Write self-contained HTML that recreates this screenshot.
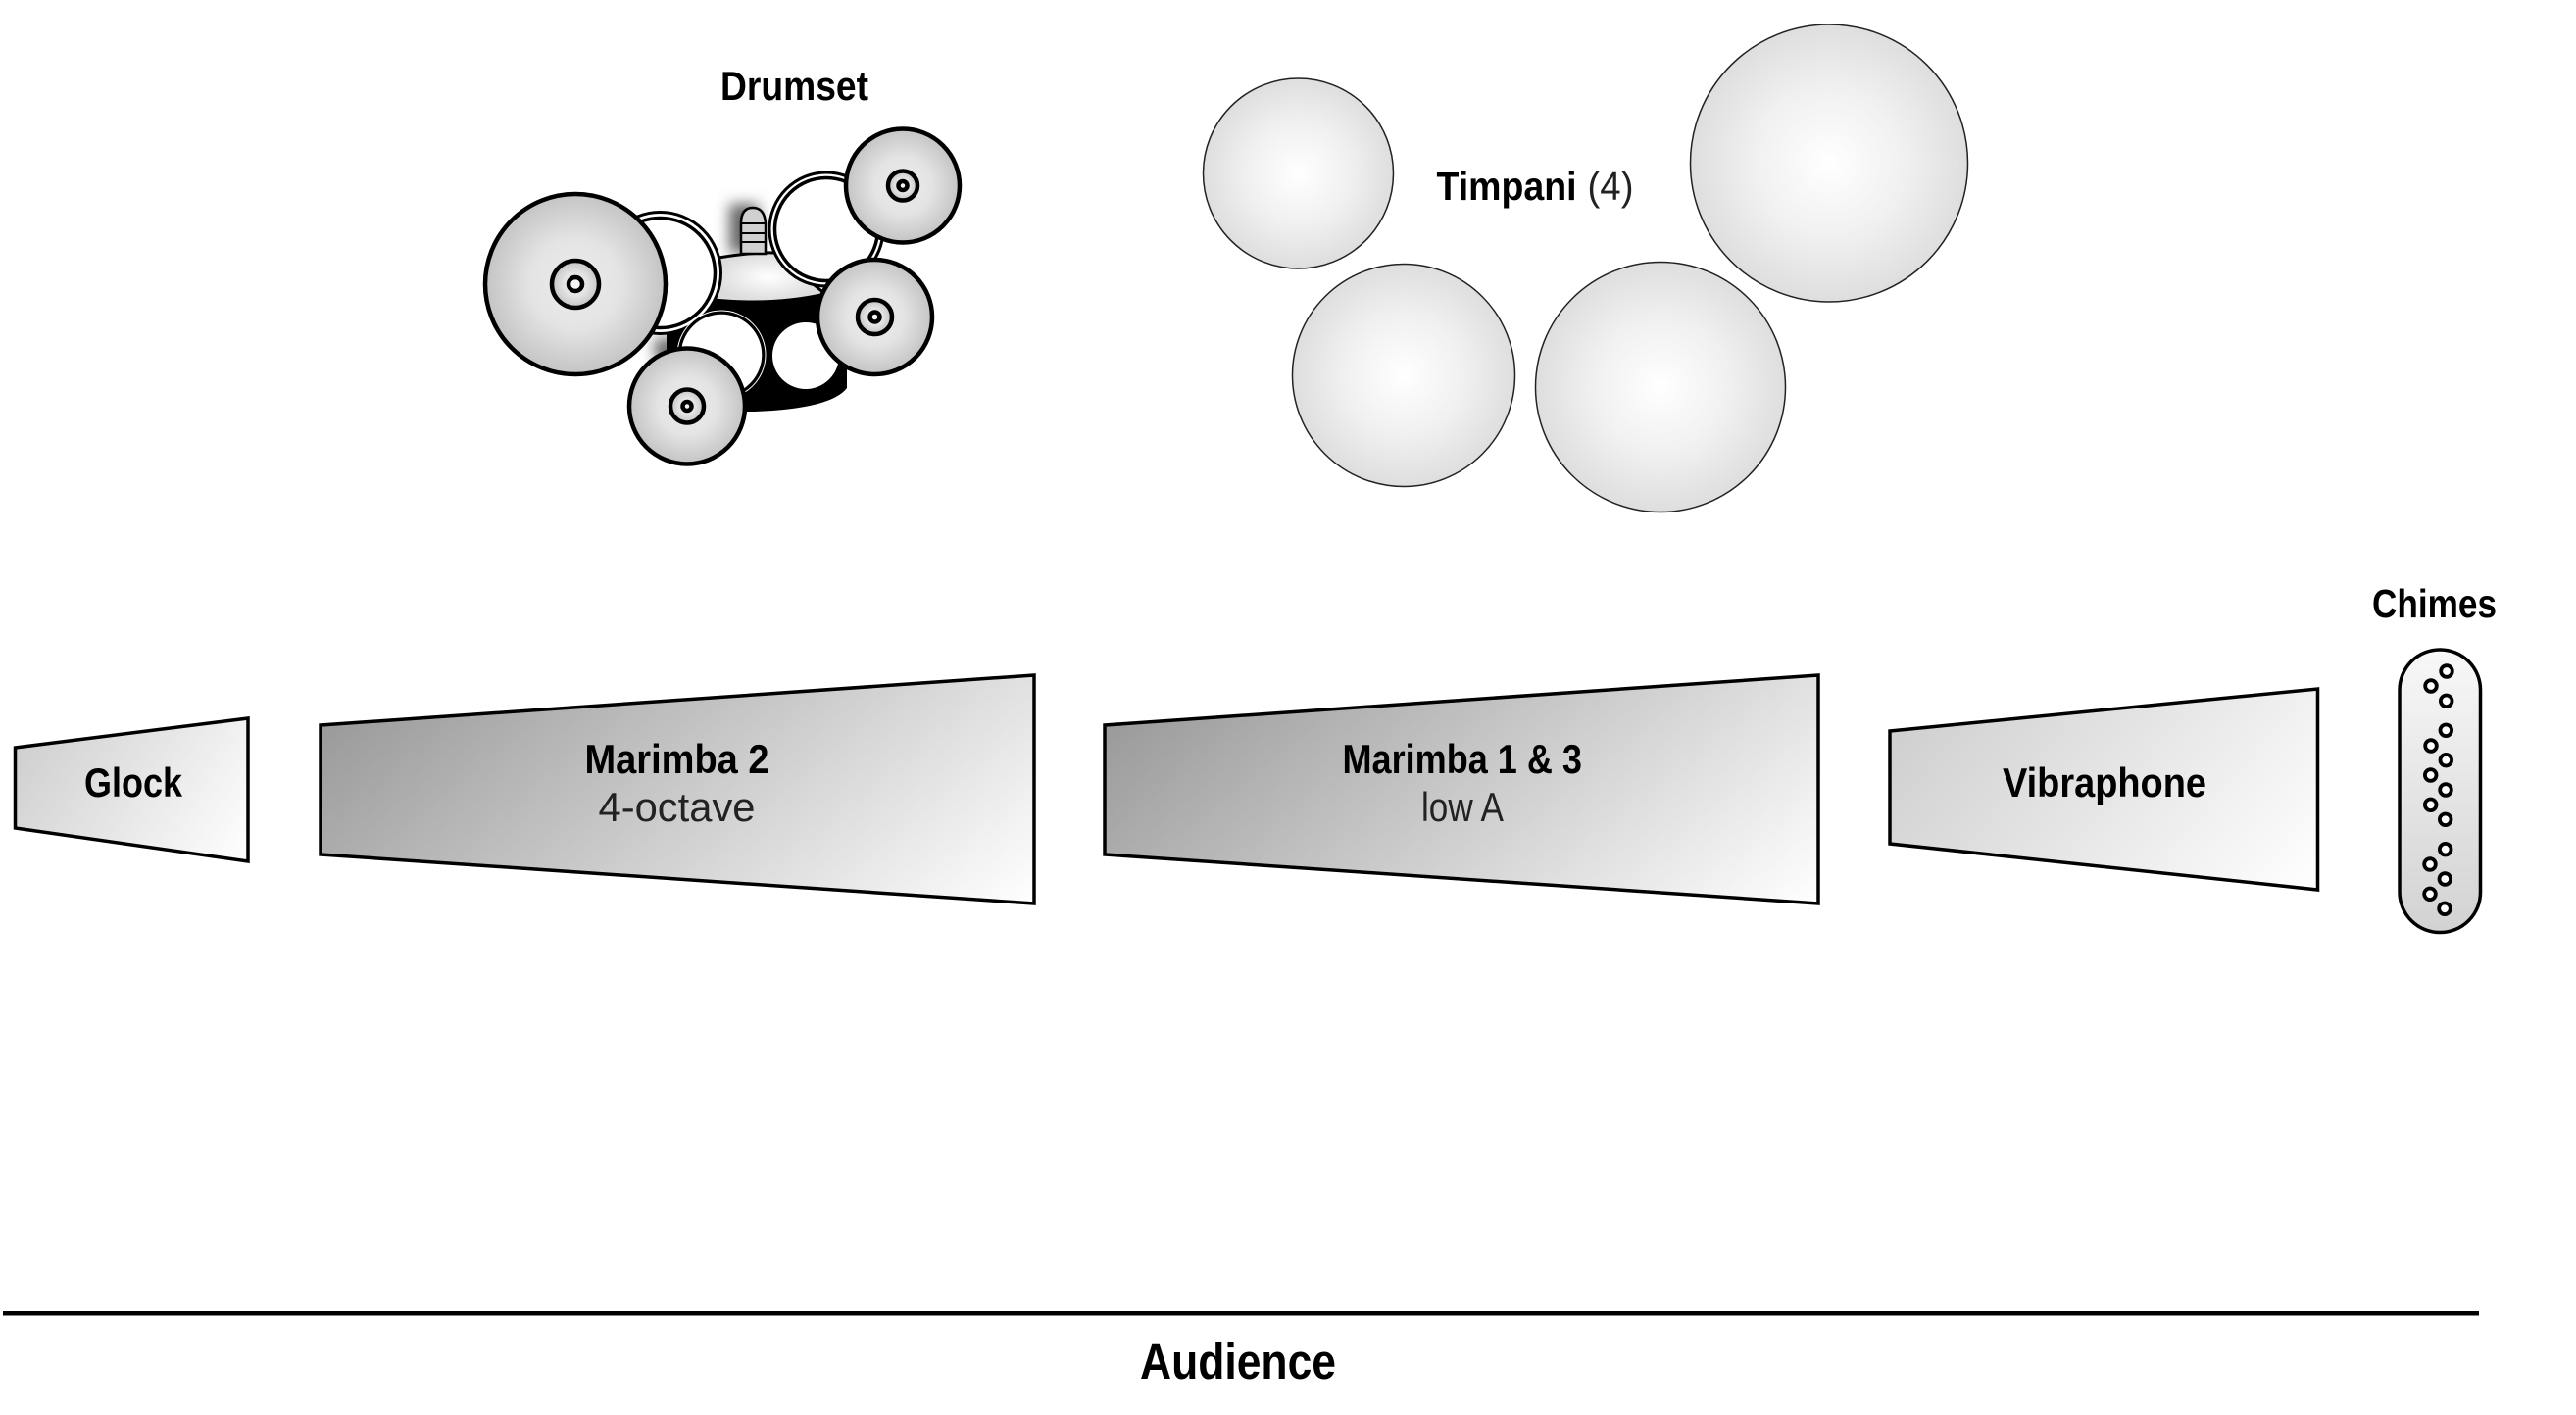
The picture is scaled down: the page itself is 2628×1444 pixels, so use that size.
<!DOCTYPE html>
<html><head><meta charset="utf-8"><title>Percussion setup</title>
<style>html,body{margin:0;padding:0;background:#fff}svg{display:block}
text{font-family:"Liberation Sans",sans-serif;fill:#000}
.b{font-weight:bold}
.l{fill:#222}
</style></head><body>
<svg xmlns="http://www.w3.org/2000/svg" width="2628" height="1444" viewBox="0 0 2628 1444">
<defs>
<radialGradient id="t"><stop offset="0" stop-color="#fff"/><stop offset=".55" stop-color="#f0f0f0"/><stop offset="1" stop-color="#dedede"/></radialGradient>
<radialGradient id="c"><stop offset="0" stop-color="#ececec"/><stop offset=".5" stop-color="#e4e4e4"/><stop offset="1" stop-color="#c4c4c4"/></radialGradient>
<radialGradient id="th"><stop offset="0" stop-color="#fff"/><stop offset="1" stop-color="#dcdcdc"/></radialGradient>
<linearGradient id="m1" gradientUnits="userSpaceOnUse" x1="327" y1="740" x2="707" y2="1206"><stop offset="0" stop-color="#9a9a9a"/><stop offset="1" stop-color="#fff"/></linearGradient>
<linearGradient id="m2" gradientUnits="userSpaceOnUse" x1="1127" y1="740" x2="1507" y2="1206"><stop offset="0" stop-color="#9a9a9a"/><stop offset="1" stop-color="#fff"/></linearGradient>
<linearGradient id="g1" gradientUnits="userSpaceOnUse" x1="15" y1="763" x2="237" y2="905"><stop offset="0" stop-color="#cfcfcf"/><stop offset="1" stop-color="#fff"/></linearGradient>
<linearGradient id="g2" gradientUnits="userSpaceOnUse" x1="1928" y1="746" x2="2265" y2="1027"><stop offset="0" stop-color="#cfcfcf"/><stop offset="1" stop-color="#fff"/></linearGradient>
<linearGradient id="ch" x1="0" y1="0" x2="0" y2="1"><stop offset="0" stop-color="#f8f8f8"/><stop offset="1" stop-color="#d2d2d2"/></linearGradient>
<filter id="bl" x="-100%" y="-100%" width="300%" height="300%"><feGaussianBlur stdDeviation="7"/></filter>
</defs>

<!-- Drumset -->
<text class="b" x="735" y="102" font-size="42" textLength="151" lengthAdjust="spacingAndGlyphs">Drumset</text>
<rect x="744" y="208" width="30" height="50" fill="#666" filter="url(#bl)"/>
<rect x="668" y="345" width="24" height="24" fill="#666" filter="url(#bl)"/>
<path d="M680 300H864V396Q848 417 770 420H680Z" fill="#000"/>
<path d="M733 263Q770 257 790 258L842 300Q790 312 728 306Z" fill="url(#th)" stroke="#000" stroke-width="3"/>
<path d="M756 259V228Q756 212 768 212Q780 212 781 228V259Z" fill="#d0d0d0" stroke="#000" stroke-width="2.5"/>
<path d="M756 228H781M756 238H781M756 247H781" stroke="#000" stroke-width="2"/>
<circle cx="673.5" cy="278.5" r="62" fill="#fff" stroke="#000" stroke-width="3"/>
<circle cx="673.5" cy="278.5" r="56" fill="#fff" stroke="#000" stroke-width="3.5"/>
<circle cx="843" cy="234" r="58" fill="#fff" stroke="#000" stroke-width="3"/>
<circle cx="843" cy="234" r="52.5" fill="#fff" stroke="#000" stroke-width="3.5"/>
<circle cx="736" cy="362" r="43" fill="#fff" stroke="#000" stroke-width="3.5"/>
<circle cx="736" cy="362" r="45" fill="none" stroke="#fff" stroke-width="1"/>
<circle cx="822" cy="363" r="34" fill="#fff"/>
<g stroke="#000" fill="url(#c)">
<g stroke-width="4.5">
<circle cx="587" cy="290" r="92"/>
<circle cx="921" cy="189.5" r="58"/>
<circle cx="892.5" cy="323.5" r="58.5"/>
<circle cx="701" cy="414.5" r="59"/>
</g>
<g stroke-width="4.5">
<circle cx="587" cy="290" r="24"/>
<circle cx="921" cy="189.5" r="15"/>
<circle cx="892.5" cy="323.5" r="17.5"/>
<circle cx="701" cy="414.5" r="17"/>
<circle cx="587" cy="290" r="7" fill="#f4f4f4"/>
<circle cx="921" cy="189.5" r="4.5" fill="#f4f4f4"/>
<circle cx="892.5" cy="323.5" r="5" fill="#f4f4f4"/>
<circle cx="701" cy="414.5" r="4.5" fill="#f4f4f4"/>
</g>
</g>

<!-- Timpani -->
<g fill="url(#t)" stroke="#222" stroke-width="1.5">
<circle cx="1324.5" cy="177" r="97"/>
<circle cx="1866" cy="166.5" r="141.5"/>
<circle cx="1432" cy="383" r="113.5"/>
<circle cx="1694" cy="395" r="127.5"/>
</g>
<text class="b" x="1465.5" y="204" font-size="41" textLength="143" lengthAdjust="spacingAndGlyphs">Timpani</text>
<text class="l" x="1619.5" y="204" font-size="41" textLength="47" lengthAdjust="spacingAndGlyphs">(4)</text>

<!-- Bars -->
<g stroke="#000" stroke-width="3.5" stroke-linejoin="miter">
<polygon points="15.5,763 253,733 253,879 15.5,845" fill="url(#g1)"/>
<polygon points="327,740 1055,689 1055,922 327,872" fill="url(#m1)"/>
<polygon points="1127,740 1855,689 1855,922 1127,872" fill="url(#m2)"/>
<polygon points="1928,746 2364.5,703 2364.5,908 1928,861" fill="url(#g2)"/>
</g>
<text class="b" x="86" y="813" font-size="42" textLength="100" lengthAdjust="spacingAndGlyphs">Glock</text>
<text class="b" x="596.5" y="789" font-size="42" textLength="188" lengthAdjust="spacingAndGlyphs">Marimba 2</text>
<text class="l" x="610.5" y="838" font-size="42" textLength="160" lengthAdjust="spacingAndGlyphs">4-octave</text>
<text class="b" x="1369.5" y="789" font-size="42" textLength="244.5" lengthAdjust="spacingAndGlyphs">Marimba 1 &amp; 3</text>
<text class="l" x="1450" y="838" font-size="42" textLength="84" lengthAdjust="spacingAndGlyphs">low A</text>
<text class="b" x="2043" y="813" font-size="42" textLength="208" lengthAdjust="spacingAndGlyphs">Vibraphone</text>

<!-- Chimes -->
<text class="b" x="2420" y="630" font-size="41" textLength="127" lengthAdjust="spacingAndGlyphs">Chimes</text>
<rect x="2448" y="663" width="82.5" height="288.5" rx="41" ry="41" fill="url(#ch)" stroke="#000" stroke-width="3.5"/>
<g fill="#fff" stroke="#000" stroke-width="3.8">
<circle cx="2496" cy="685" r="5.8"/><circle cx="2480" cy="700" r="5.8"/><circle cx="2495.7" cy="715.3" r="5.8"/>
<circle cx="2495.3" cy="745.3" r="5.8"/><circle cx="2480" cy="761" r="5.8"/><circle cx="2495.3" cy="775.7" r="5.8"/>
<circle cx="2479.7" cy="791" r="5.8"/><circle cx="2495" cy="806" r="5.8"/><circle cx="2479.7" cy="821.3" r="5.8"/>
<circle cx="2494.7" cy="836.3" r="5.8"/><circle cx="2494.7" cy="866.7" r="5.8"/><circle cx="2479" cy="882" r="5.8"/>
<circle cx="2494.3" cy="897" r="5.8"/><circle cx="2479" cy="912.3" r="5.8"/><circle cx="2494" cy="927.3" r="5.8"/>
</g>

<!-- Audience -->
<rect x="3" y="1338" width="2526" height="4.5" fill="#000"/>
<text class="b" x="1163" y="1407" font-size="51" textLength="200" lengthAdjust="spacingAndGlyphs">Audience</text>
</svg>
</body></html>
